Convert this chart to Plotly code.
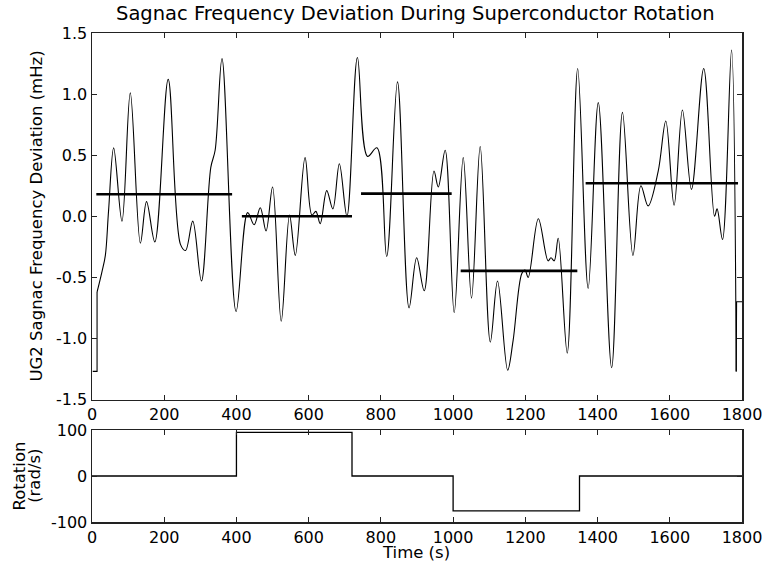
import plotly.graph_objects as go

# ---- data ----
# start edge (sharp step)
start_t = [2, 14, 14]
start_v = [-1.27, -1.27, -0.62]

# main Sagnac deviation curve (mHz), smooth between these points
sag_t = [14, 20, 28, 37, 46, 60, 83, 106, 134, 151, 174, 211, 245, 259, 279, 303, 329, 341,
         360, 399, 431, 449, 466, 482, 500, 524, 547, 563, 590, 609, 620, 632, 650, 667,
         685, 706, 735, 763, 789, 816, 846, 878, 899, 920, 947, 959, 978, 1003, 1028,
         1051, 1075, 1103, 1123, 1151, 1166, 1190, 1199, 1208, 1236, 1263, 1271, 1280,
         1291, 1316, 1345, 1374, 1402, 1439, 1469, 1498, 1520, 1540, 1568, 1589, 1612,
         1635, 1660, 1694, 1724, 1731, 1746, 1771, 1784]
sag_v = [-0.62, -0.55, -0.45, -0.32, 0.05, 0.56, -0.04, 1.01, -0.22, 0.12, -0.21, 1.12,
         -0.23, -0.28, -0.04, -0.53, 0.40, 0.54, 1.29, -0.78, 0.03, -0.07, 0.07, -0.12,
         0.24, -0.86, 0.01, -0.32, 0.48, 0.01, 0.04, -0.06, 0.21, 0.06, 0.43, 0.0, 1.30,
         0.49, 0.56, -0.33, 1.10, -0.75, -0.34, -0.61, 0.37, 0.24, 0.54, -0.79, 0.48,
         -0.67, 0.57, -1.03, -0.53, -1.26, -1.02, -0.47, -0.44, -0.50, -0.02, -0.365,
         -0.34, -0.365, -0.18, -1.12, 1.21, -0.59, 0.93, -1.24, 0.85, -0.32, 0.25, 0.085,
         0.37, 0.78, 0.09, 0.87, 0.22, 1.21, 0.0, 0.06, -0.19, 1.36, -1.27]

# end edge (sharp step)
end_t = [1784, 1785, 1800]
end_v = [-1.27, -0.70, -0.70]

# segment means (mHz)
mean_start = [12, 415, 745, 1021, 1367]
mean_end = [388, 720, 996, 1344, 1789]
mean_val = [0.18, 0.0, 0.185, -0.447, 0.27]

# rotation (rad/s), step changes
rot_t = [0, 400, 720, 1000, 1350, 1800]
rot_v = [0, 95, 0, -76, 0, 0]

x_ticks = [0, 200, 400, 600, 800, 1000, 1200, 1400, 1600, 1800]
y_ticks = [-1.5, -1.0, -0.5, 0.0, 0.5, 1.0, 1.5]
y_tick_text = ["-1.5", "-1.0", "-0.5", "0.0", "0.5", "1.0", "1.5"]
r_ticks = [-100, 0, 100]
r_tick_text = ["-100", "0", "100"]

FONT = "DejaVu Sans"

fig = go.Figure()
fig.add_trace(go.Scatter(x=start_t, y=start_v, mode="lines", line=dict(color="black", width=1.1),
                         xaxis="x", yaxis="y", showlegend=False))
fig.add_trace(go.Scatter(x=sag_t, y=sag_v, mode="lines",
                         line=dict(color="black", width=1.1, shape="spline", smoothing=1.0),
                         xaxis="x", yaxis="y", showlegend=False))
fig.add_trace(go.Scatter(x=end_t, y=end_v, mode="lines", line=dict(color="black", width=1.1),
                         xaxis="x", yaxis="y", showlegend=False))
for a, b, v in zip(mean_start, mean_end, mean_val):
    fig.add_trace(go.Scatter(x=[a, b], y=[v, v], mode="lines", line=dict(color="black", width=2.6),
                             xaxis="x", yaxis="y", showlegend=False))
fig.add_trace(go.Scatter(x=rot_t, y=rot_v, mode="lines", line=dict(color="black", width=1.3, shape="hv"),
                         xaxis="x2", yaxis="y2", showlegend=False))

axis_common = dict(showline=True, linecolor="#222", linewidth=1.5, mirror="ticks", ticks="inside",
                   ticklen=5, tickwidth=1, tickcolor="#222", showgrid=False, zeroline=False,
                   automargin=False,
                   tickfont=dict(family=FONT, size=16, color="black"))

fig.update_layout(
    width=766, height=567,
    margin=dict(l=92, r=24, t=33, b=45, autoexpand=False),
    paper_bgcolor="white", plot_bgcolor="white",
    font=dict(family=FONT, size=16, color="black"),
    hovermode=False,
    xaxis=dict(domain=[0, 1], range=[0, 1800], tickvals=x_ticks, anchor="y", **axis_common),
    yaxis=dict(domain=[0.2505, 1], range=[-1.5, 1.5], tickvals=y_ticks, ticktext=y_tick_text,
               anchor="x", **axis_common),
    xaxis2=dict(domain=[0, 1], range=[0, 1800], tickvals=x_ticks, anchor="y2", **axis_common),
    yaxis2=dict(domain=[0, 0.1881], range=[-100, 100], tickvals=r_ticks, ticktext=r_tick_text,
                anchor="x2", **axis_common),
    annotations=[
        dict(text="Sagnac Frequency Deviation During Superconductor Rotation", xref="paper", yref="paper",
             x=0.498, y=1.0389, xanchor="center", yanchor="middle", showarrow=False,
             font=dict(family=FONT, size=19.5, color="black")),
        dict(text="UG2 Sagnac Frequency Deviation (mHz)", xref="paper", yref="paper",
             x=-0.0846, y=0.6247, xanchor="center", yanchor="middle", textangle=-90, showarrow=False,
             font=dict(family=FONT, size=16.5, color="black")),
        dict(text="Rotation", xref="paper", yref="paper",
             x=-0.1115, y=0.094, xanchor="center", yanchor="middle", textangle=-90, showarrow=False,
             font=dict(family=FONT, size=16.5, color="black")),
        dict(text="(rad/s)", xref="paper", yref="paper",
             x=-0.0895, y=0.094, xanchor="center", yanchor="middle", textangle=-90, showarrow=False,
             font=dict(family=FONT, size=16.5, color="black")),
        dict(text="Time (s)", xref="paper", yref="paper",
             x=0.498, y=-0.062, xanchor="center", yanchor="middle", showarrow=False,
             font=dict(family=FONT, size=16.5, color="black")),
    ],
)

fig.write_html("out.html", config={"displayModeBar": False, "staticPlot": True},
               post_script="document.body.style.margin='0';document.body.style.overflow='hidden';")
